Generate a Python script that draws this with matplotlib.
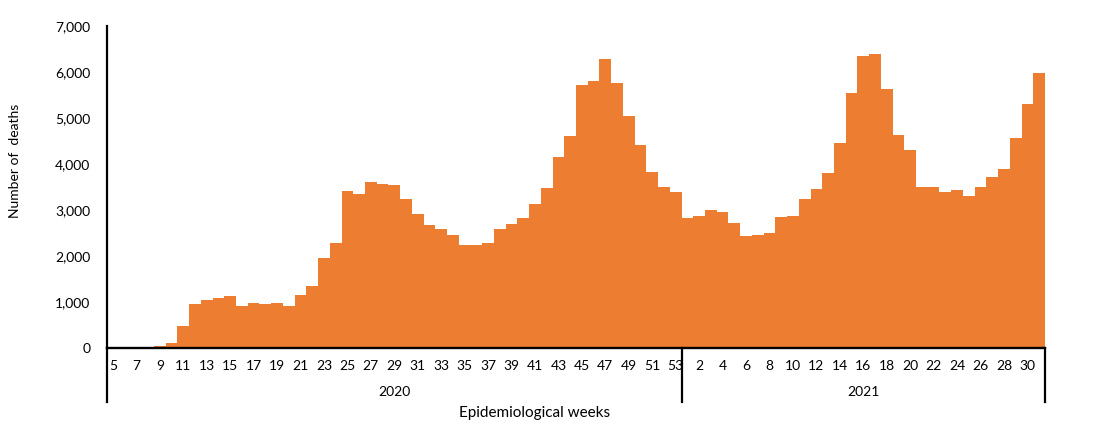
import matplotlib
matplotlib.use("Agg")
import matplotlib.pyplot as plt
import numpy as np

plt.rcParams['font.family'] = ['Lato', 'DejaVu Sans']

# weekly deaths, 2020 weeks 5-53 then 2021 weeks 1-31
deaths_2020 = [0, 0, 0, 0, 45, 100, 470, 963, 1050, 1093, 1137, 920, 985, 963, 985,
               920, 1160, 1355, 1963, 2290, 3420, 3355, 3615, 3570, 3550, 3240, 2920,
               2680, 2590, 2460, 2245, 2245, 2290, 2590, 2700, 2830, 3135, 3485, 4160,
               4615, 5725, 5810, 6290, 5765, 5050, 4420, 3835, 3505, 3400]
deaths_2021 = [2830, 2875, 3005, 2960, 2720, 2435, 2460, 2505, 2850, 2875, 3240, 3460,
               3810, 4460, 5550, 6355, 6400, 5635, 4635, 4310, 3505, 3505, 3400, 3440,
               3310, 3505, 3725, 3900, 4575, 5310, 5985]
weeks_2020 = list(range(5, 54))
weeks_2021 = list(range(1, 32))
years = ["2020", "2021"]

values = deaths_2020 + deaths_2021
n20 = len(deaths_2020)
n = len(values)
x = np.arange(n) + 0.5

fig = plt.figure(figsize=(11.12, 4.26), dpi=100)
ax = fig.add_axes([107/1112, 1 - 348/426, (1045-107)/1112, (348-26)/426])

ax.bar(x, values, width=1.0, color="#ED7D31", linewidth=0)
ax.set_xlim(0, n)
ax.set_ylim(0, 7000)

# tick labels: every second week
tick_pos = []
tick_lab = []
for i, w in enumerate(weeks_2020):
    if w % 2 == 1:
        tick_pos.append(x[i]); tick_lab.append(str(w))
for i, w in enumerate(weeks_2021):
    if w % 2 == 0:
        tick_pos.append(x[n20 + i]); tick_lab.append(str(w))
ax.set_xticks(tick_pos)
ax.set_xticklabels(tick_lab, fontsize=10)
ax.tick_params(axis='x', length=0, pad=9)

yt = np.arange(0, 7001, 1000)
ax.set_yticks(yt)
ax.set_yticklabels([f"{v:,}" for v in yt], fontsize=10)
ax.tick_params(axis='y', length=0, pad=12)

for s in ["top", "right"]:
    ax.spines[s].set_visible(False)
ax.spines["left"].set_linewidth(1.6)
ax.spines["bottom"].set_linewidth(1.7)

# year separators below axis
ext = -54 / 322
for xf in [0, n20 / n, 1]:
    ax.plot([xf, xf], [0, ext], transform=ax.transAxes, color="black",
            lw=1.6, clip_on=False)

ax.text(n20 / 2, -0.138, years[0], transform=ax.get_xaxis_transform(),
        ha="center", va="center", fontsize=10)
ax.text(n20 + (n - n20) / 2, -0.138, years[1], transform=ax.get_xaxis_transform(),
        ha="center", va="center", fontsize=10)

fig.text(535/1112, 1 - 413/426, "Epidemiological weeks", ha="center", va="center", fontsize=11)
fig.text(15/1112, 1 - 161/426, "Number of  deaths", ha="center", va="center",
         rotation=90, fontsize=10)

fig.savefig("out.png", dpi=100)
